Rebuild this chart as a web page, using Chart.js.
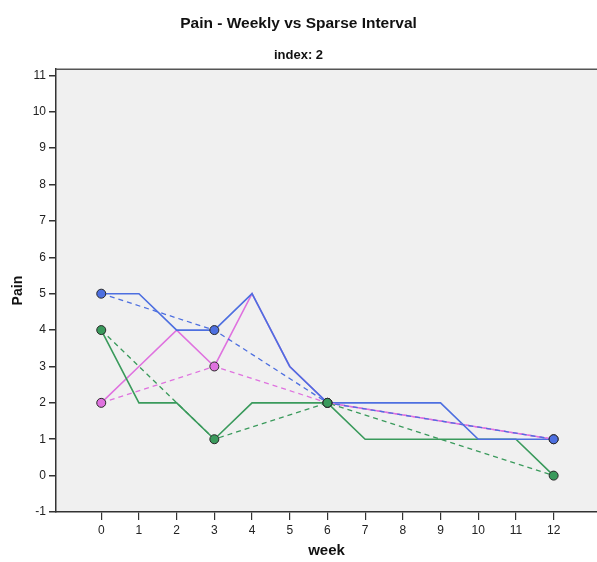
<!DOCTYPE html>
<html>
<head>
<meta charset="utf-8">
<script src="https://cdn.jsdelivr.net/npm/chart.js@4"></script>
<style>
  html, body { margin: 0; padding: 0; background: #fff; overflow: hidden; }
  canvas { display: block; }
</style>
</head>
<body>
<canvas id="chart-1" width="597" height="562"></canvas>
<script>
// weekly measurements
const weeks = [0, 1, 2, 3, 4, 5, 6, 7, 8, 9, 10, 11, 12];
const blueWeekly = [5, 5, 4, 4, 5, 3, 2, 2, 2, 2, 1, 1, 1];
const pinkWeekly = [2, 3, 4, 3, 5, 3, 2, null, null, null, null, null, 1];
const greenWeekly = [4, 2, 2, 1, 2, 2, 2, 1, 1, 1, 1, 1, 0];

// sparse interval measurements
const sparseWeeks = [0, 3, 6, 12];
const blueSparse = [5, 4, 2, 1];
const pinkSparse = [2, 3, 2, 1];
const greenSparse = [4, 1, 2, 0];

const yTicks = [-1, 0, 1, 2, 3, 4, 5, 6, 7, 8, 9, 10, 11];

const BLUE = "#4d6fe0";
const PINK = "#df72df";
const GREEN = "#3a9a5c";
const FONT = "'Liberation Sans Narrow', 'Liberation Sans', Arial, sans-serif";

function pts(xs, ys) {
  return xs.map((x, i) => ({ x: x, y: ys[i] }));
}

function weeklySet(ys, color) {
  return {
    data: pts(weeks, ys),
    borderColor: color,
    borderWidth: 1.6,
    pointRadius: 0,
    spanGaps: true,
    tension: 0,
  };
}

function sparseSet(ys, color) {
  return {
    data: pts(sparseWeeks, ys),
    borderColor: color,
    borderWidth: 1.3,
    borderDash: [5, 4],
    pointRadius: 4.5,
    pointBackgroundColor: color,
    pointBorderColor: "#2a2a2a",
    pointBorderWidth: 1,
    tension: 0,
  };
}

// grey plot area with a dark top edge
const plotBg = {
  id: "plotBg",
  beforeDraw(chart) {
    const { ctx, chartArea: a } = chart;
    ctx.save();
    ctx.fillStyle = "#f0f0f0";
    ctx.fillRect(a.left, a.top, a.right - a.left, a.bottom - a.top);
    ctx.restore();
  },
  afterDraw(chart) {
    const { ctx, chartArea: a } = chart;
    ctx.save();
    ctx.strokeStyle = "#555";
    ctx.lineWidth = 1.5;
    ctx.beginPath();
    ctx.moveTo(a.left, a.top);
    ctx.lineTo(a.right, a.top);
    ctx.stroke();
    ctx.restore();
  },
};

const ctx1 = document.getElementById("chart-1").getContext("2d");
const myChart = new Chart(ctx1, {
  type: "line",
  data: {
    datasets: [
      sparseSet(greenSparse, GREEN),
      sparseSet(blueSparse, BLUE),
      sparseSet(pinkSparse, PINK),
      weeklySet(blueWeekly, BLUE),
      weeklySet(greenWeekly, GREEN),
      weeklySet(pinkWeekly, PINK),
    ],
  },
  options: {
    responsive: false,
    animation: false,
    layout: { autoPadding: false, padding: 0 },
    plugins: {
      legend: { display: false },
      tooltip: { enabled: false },
      title: {
        display: true,
        text: "Pain - Weekly vs Sparse Interval",
        color: "#111",
        font: { family: FONT, size: 15.5, weight: "bold" },
        padding: { top: 14, bottom: 6 },
      },
      subtitle: {
        display: true,
        text: "index: 2",
        color: "#111",
        font: { family: FONT, size: 13, weight: "bold" },
        padding: { top: 9, bottom: 6 },
      },
    },
    scales: {
      x: {
        type: "linear",
        min: -1.2,
        max: 13.15,
        afterBuildTicks: (scale) => {
          scale.ticks = weeks.map((v) => ({ value: v }));
        },
        afterFit: (scale) => {
          scale.height = 50;
          scale.paddingLeft = 0;
          scale.paddingRight = 0;
        },
        grid: { drawOnChartArea: false, tickLength: 8, color: "#333", lineWidth: 1.2 },
        border: { display: true, color: "#333", width: 1.5 },
        ticks: {
          color: "#222",
          padding: 3,
          maxRotation: 0,
          autoSkip: false,
          font: { family: FONT, size: 12 },
        },
        title: {
          display: true,
          text: "week",
          color: "#111",
          font: { family: FONT, size: 15, weight: "bold" },
          padding: { top: 0, bottom: 2 },
        },
      },
      y: {
        min: -1,
        max: 11.17,
        afterBuildTicks: (scale) => {
          scale.ticks = yTicks.map((v) => ({ value: v }));
        },
        afterFit: (scale) => {
          scale.width = 56;
        },
        grid: { drawOnChartArea: false, tickLength: 7, color: "#333", lineWidth: 1.5 },
        border: { display: true, color: "#333", width: 1.5 },
        ticks: {
          color: "#222",
          padding: 3,
          autoSkip: false,
          font: { family: FONT, size: 12 },
        },
        title: {
          display: true,
          text: "Pain",
          color: "#111",
          font: { family: FONT, size: 14, weight: "bold" },
          padding: { top: 10, bottom: 0 },
        },
      },
    },
  },
  plugins: [plotBg],
});
</script>
</body>
</html>
